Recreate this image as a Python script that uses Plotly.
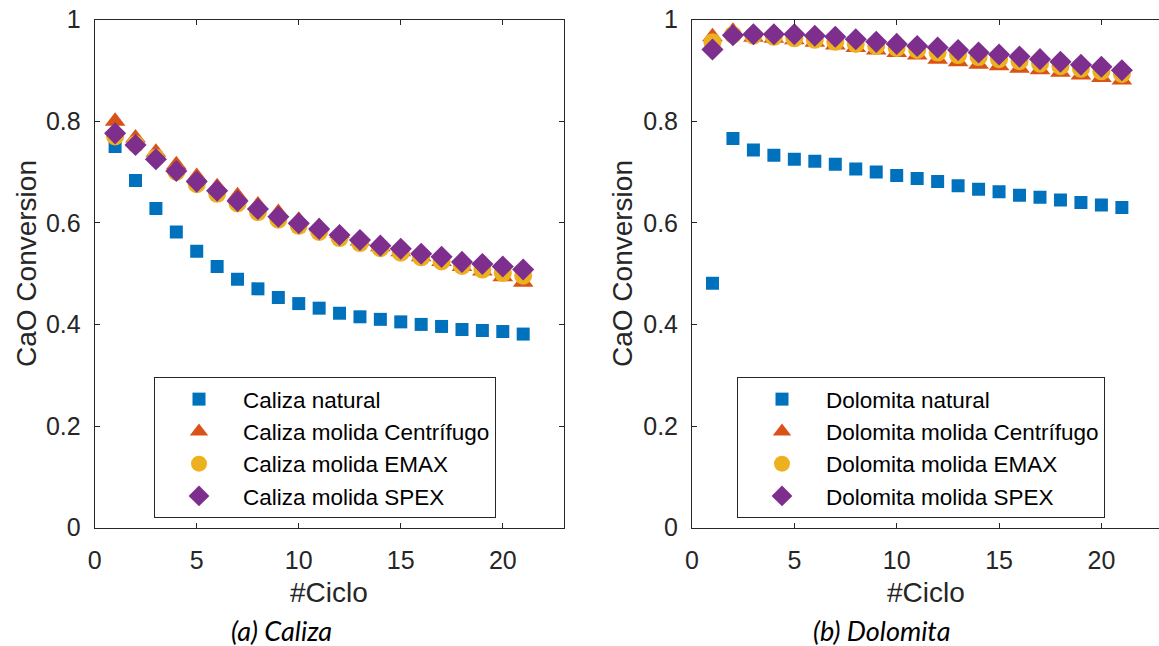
import plotly.graph_objects as go

W, H = 1159, 646

ciclos = list(range(1, 22))

caliza_natural = [0.750, 0.683, 0.628, 0.582, 0.544, 0.514, 0.489, 0.470, 0.453, 0.441, 0.432,
                  0.422, 0.415, 0.410, 0.405, 0.400, 0.396, 0.390, 0.388, 0.386, 0.381]
caliza_centrifugo = [0.800, 0.767, 0.739, 0.714, 0.691, 0.671, 0.653, 0.635, 0.620, 0.605, 0.592,
                     0.579, 0.564, 0.553, 0.543, 0.533, 0.524, 0.514, 0.505, 0.494, 0.483]
caliza_emax = [0.770, 0.755, 0.728, 0.700, 0.676, 0.657, 0.638, 0.621, 0.606, 0.594, 0.582,
               0.570, 0.560, 0.550, 0.541, 0.532, 0.524, 0.515, 0.508, 0.501, 0.496]
caliza_spex = [0.776, 0.753, 0.725, 0.702, 0.681, 0.663, 0.643, 0.627, 0.612, 0.599, 0.588,
               0.576, 0.566, 0.555, 0.549, 0.539, 0.533, 0.523, 0.519, 0.514, 0.508]

dolomita_natural = [0.481, 0.766, 0.743, 0.733, 0.725, 0.721, 0.715, 0.706, 0.700, 0.693, 0.687,
                    0.681, 0.673, 0.666, 0.661, 0.654, 0.650, 0.645, 0.640, 0.635, 0.630]
dolomita_centrifugo = [0.966, 0.977, 0.965, 0.963, 0.960, 0.955, 0.950, 0.945, 0.940, 0.935, 0.930,
                       0.922, 0.917, 0.912, 0.909, 0.904, 0.901, 0.896, 0.891, 0.886, 0.881]
dolomita_emax = [0.955, 0.970, 0.968, 0.966, 0.963, 0.960, 0.956, 0.952, 0.948, 0.944, 0.940,
                 0.935, 0.930, 0.926, 0.922, 0.918, 0.913, 0.908, 0.903, 0.898, 0.893]
dolomita_spex = [0.941, 0.969, 0.971, 0.971, 0.971, 0.968, 0.966, 0.961, 0.956, 0.952, 0.948,
                 0.945, 0.940, 0.935, 0.931, 0.927, 0.922, 0.917, 0.911, 0.907, 0.900]

x_ticks = [0, 5, 10, 15, 20]
y_ticks = [0, 0.2, 0.4, 0.6, 0.8, 1]
y_tick_labels = ["0", "0.2", "0.4", "0.6", "0.8", "1"]

colors = ["#0072BD", "#D95319", "#EDB120", "#7E2F8E"]
symbols = ["square", "triangle-up", "circle", "diamond"]
sizes = [13, 18, 18, 17]

FONT = "Liberation Sans"
TXT = "#262626"

fig = go.Figure()

left_series = [("Caliza natural", caliza_natural),
               ("Caliza molida Centrífugo", caliza_centrifugo),
               ("Caliza molida EMAX", caliza_emax),
               ("Caliza molida SPEX", caliza_spex)]
right_series = [("Dolomita natural", dolomita_natural),
                ("Dolomita molida Centrífugo", dolomita_centrifugo),
                ("Dolomita molida EMAX", dolomita_emax),
                ("Dolomita molida SPEX", dolomita_spex)]

for i, (name, vals) in enumerate(left_series):
    fig.add_trace(go.Scatter(x=ciclos, y=vals, mode="markers", name=name,
                             marker=dict(symbol=symbols[i], size=sizes[i], color=colors[i]),
                             xaxis="x", yaxis="y", legend="legend"))
for i, (name, vals) in enumerate(right_series):
    fig.add_trace(go.Scatter(x=ciclos, y=vals, mode="markers", name=name,
                             marker=dict(symbol=symbols[i], size=sizes[i], color=colors[i]),
                             xaxis="x2", yaxis="y2", legend="legend2"))

def px_x(p):
    return p / W

def px_y(p):
    return 1 - p / H

ydom = [px_y(527.7), px_y(19.5)]

axis_common = dict(showgrid=False, zeroline=False, showline=True, linecolor=TXT, linewidth=1,
                   ticks="inside", ticklen=5, tickcolor=TXT, tickwidth=1, automargin=False,
                   tickfont=dict(family=FONT, size=25, color=TXT))

legend_common = dict(xanchor="left", yanchor="top", bordercolor=TXT, borderwidth=1,
                     bgcolor="white", itemwidth=78, tracegroupgap=0,
                     font=dict(family=FONT, size=22.5, color="black"))

fig.update_layout(
    width=W, height=H,
    margin=dict(l=0, r=0, t=0, b=0, pad=0, autoexpand=False),
    paper_bgcolor="white", plot_bgcolor="white",
    xaxis=dict(domain=[px_x(94.7), px_x(564)], range=[0, 23], tickvals=x_ticks,
               mirror="ticks", anchor="y", ticklabelstandoff=10, **axis_common),
    yaxis=dict(domain=ydom, range=[0, 1], tickvals=y_ticks, ticktext=y_tick_labels,
               mirror="ticks", anchor="x", ticklabelstandoff=8, **axis_common),
    xaxis2=dict(domain=[px_x(692), 1.0], range=[0, (W - 692) / 20.47], tickvals=x_ticks,
                mirror="ticks", anchor="y2", ticklabelstandoff=10, **axis_common),
    yaxis2=dict(domain=ydom, range=[0, 1], tickvals=y_ticks, ticktext=y_tick_labels,
                mirror=False, anchor="x2", ticklabelstandoff=8, **axis_common),
    legend=dict(x=px_x(154), y=px_y(377), **legend_common),
    legend2=dict(x=px_x(737), y=px_y(377), **legend_common),
    showlegend=True,
)

ann_font = dict(family=FONT, size=28, color=TXT)
cap_font = dict(family="Lato", size=27, color="black")
annotations = [
    dict(text="#Ciclo", x=px_x(329), y=px_y(592), font=ann_font),
    dict(text="#Ciclo", x=px_x(926), y=px_y(592), font=ann_font),
    dict(text="CaO Conversion", x=px_x(26), y=px_y(264), textangle=-90, font=ann_font),
    dict(text="CaO Conversion", x=px_x(622), y=px_y(264), textangle=-90, font=ann_font),
    dict(text="<i>(a) Caliza</i>", x=px_x(281), y=px_y(630), font=cap_font),
    dict(text="<i>(b) Dolomita</i>", x=px_x(882), y=px_y(630), font=cap_font),
]
for a in annotations:
    fig.add_annotation(xref="paper", yref="paper", showarrow=False,
                       xanchor="center", yanchor="middle", **a)

fig.write_html("out.html")
